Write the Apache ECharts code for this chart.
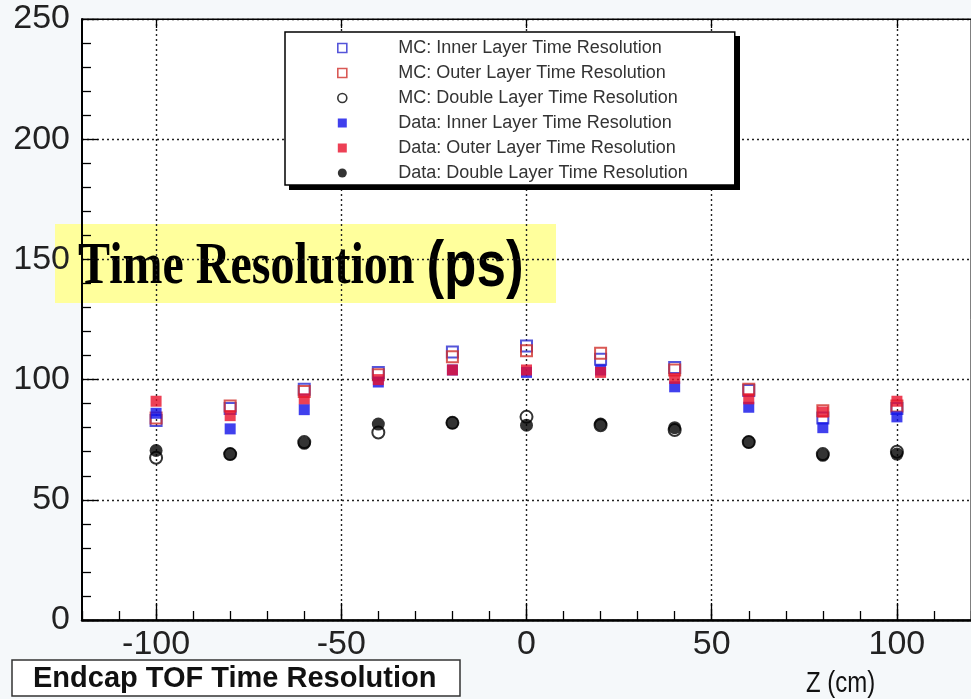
<!DOCTYPE html>
<html>
<head>
<meta charset="utf-8">
<title>Endcap TOF Time Resolution</title>
<script src="https://cdn.jsdelivr.net/npm/echarts@6/dist/echarts.min.js"></script>
<style>
  html, body { margin: 0; padding: 0; background: #f5f8fa; }
  #chart { width: 971px; height: 699px; }
</style>
</head>
<body>
<div id="chart"></div>
<script>
// Z positions along the endcap (cm)
const zPositions = [-100, -80, -60, -40, -20, 0, 20, 40, 60, 80, 100];

// Time resolution (ps) for each layer, simulation (MC) and beam data
const mcInner    = [83, 88, 96, 103, 111.5, 114, 108.5, 105, 95.5, 84, 88];
const mcOuter    = [84, 89, 95, 102, 109.5, 112, 111, 104, 96, 87, 89];
const mcDouble   = [67.5, 69, 74, 78, 82, 84.5, 81, 79, 74, 69, 70];
const dataInner  = [86, 79.5, 87.5, 99, 104, 103, 104, 97, 88.5, 80, 84.5];
const dataOuter  = [91, 85, 92, 100, 104, 104, 103, 100.5, 92, 86.5, 91];
const dataDouble = [70.5, 69, 73.5, 81.5, 82, 81, 81.5, 80, 74, 68.5, 69];

// Labelled (major) ticks on the Z axis
const zMajorTicks = [-100, -50, 0, 50, 100];

const seriesNames = [
  'MC: Inner Layer Time Resolution',
  'MC: Outer Layer Time Resolution',
  'MC: Double Layer Time Resolution',
  'Data: Inner Layer Time Resolution',
  'Data: Outer Layer Time Resolution',
  'Data: Double Layer Time Resolution'
];

const pairs = ys => zPositions.map((z, i) => [z, ys[i]]);

const SANS = '"Liberation Sans", Arial, sans-serif';
const SERIF = '"Liberation Serif", "Times New Roman", serif';
const SQUARE_ICON = 'path://M0,0H10V10H0Z';

const chart = echarts.init(document.getElementById('chart'), null, { renderer: 'canvas' });

function openSymbol(name, ys, symbol, stroke, size) {
  return {
    name, type: 'scatter', data: pairs(ys), symbol, symbolSize: size,
    xAxisIndex: 0,
    itemStyle: { color: 'rgba(255,255,255,0)', borderColor: stroke, borderWidth: 2 },
    emphasis: { disabled: true }
  };
}
function filledSymbol(name, ys, symbol, fill, size) {
  return {
    name, type: 'scatter', data: pairs(ys), symbol, symbolSize: size,
    xAxisIndex: 0,
    itemStyle: { color: fill },
    emphasis: { disabled: true }
  };
}

const gridLine = { show: true, lineStyle: { color: '#222', width: 1.4, type: [2, 3] } };
const tickLine = { color: '#000', width: 1.3 };

const option = {
  backgroundColor: '#f5f8fa',
  animation: false,
  title: {
    text: 'Endcap TOF Time Resolution',
    left: 12, top: 660,
    padding: [3, 24, 2, 21],
    backgroundColor: '#fff',
    borderColor: '#333',
    borderWidth: 1.5,
    textStyle: { fontFamily: SANS, fontSize: 29, fontWeight: 'bold', color: '#111', lineHeight: 31 }
  },
  legend: {
    orient: 'vertical',
    left: 285, top: 32,
    padding: [7, 47, 3, 52],
    itemWidth: 102, itemHeight: 9, itemGap: 7,
    backgroundColor: '#fff',
    borderColor: '#000', borderWidth: 1.5,
    selectedMode: false,
    symbolKeepAspect: true,
    itemStyle: { borderWidth: 1.6 },
    textStyle: { fontFamily: SANS, fontSize: 18, lineHeight: 16, color: '#333' },
    data: [
      { name: seriesNames[0], icon: SQUARE_ICON },
      { name: seriesNames[1], icon: SQUARE_ICON },
      { name: seriesNames[2], icon: 'circle' },
      { name: seriesNames[3], icon: SQUARE_ICON },
      { name: seriesNames[4], icon: SQUARE_ICON },
      { name: seriesNames[5], icon: 'circle' }
    ]
  },
  grid: {
    show: true,
    left: 82, top: 19, width: 898, height: 601,
    backgroundColor: '#fff',
    borderColor: '#000', borderWidth: 1
  },
  xAxis: [{
    // main Z axis: labelled long ticks and dotted grid at multiples of 50
    type: 'value', min: -120, max: 120, interval: 10,
    axisLine: { onZero: false, lineStyle: { color: '#000', width: 2.5 } },
    axisTick: { inside: true, length: 17, customValues: zMajorTicks, lineStyle: tickLine },
    axisLabel: { fontFamily: SANS, fontSize: 34, color: '#222', margin: 8, customValues: zMajorTicks },
    splitLine: gridLine
  }, {
    // short ticks every 10 cm along the bottom edge
    type: 'value', position: 'bottom', min: -120, max: 120, interval: 10,
    axisLine: { show: false, onZero: false },
    axisTick: { inside: true, length: 9, lineStyle: tickLine },
    axisLabel: { show: false },
    splitLine: { show: false }
  }, {
    // ticks along the top edge
    type: 'value', position: 'top', min: -120, max: 120, interval: 10,
    axisLine: { show: true, onZero: false, lineStyle: { color: '#000', width: 1 } },
    axisTick: { inside: true, length: 9, customValues: zMajorTicks, lineStyle: tickLine },
    axisLabel: { show: false },
    splitLine: { show: false }
  }],
  yAxis: {
    type: 'value', min: 0, max: 250, interval: 50,
    axisLine: { show: true, onZero: false, lineStyle: { color: '#000', width: 2 } },
    axisTick: { inside: true, length: 16, lineStyle: tickLine },
    minorTick: { show: true, splitNumber: 5, length: 9, lineStyle: tickLine },
    axisLabel: { fontFamily: SANS, fontSize: 34, color: '#222', margin: 12 },
    splitLine: gridLine
  },
  series: [
    openSymbol(seriesNames[0], mcInner, 'rect', '#2a2ad0', 11),
    openSymbol(seriesNames[1], mcOuter, 'rect', '#d0302a', 11),
    openSymbol(seriesNames[2], mcDouble, 'circle', '#000', 12),
    filledSymbol(seriesNames[3], dataInner, 'rect', '#1010e8', 11),
    filledSymbol(seriesNames[4], dataOuter, 'rect', '#e8102a', 11),
    filledSymbol(seriesNames[5], dataDouble, 'circle', '#000', 13)
  ],
  graphic: [
    // drop shadow behind the legend box
    { type: 'rect', z: 3, shape: { x: 289, y: 36, width: 451, height: 154 }, style: { fill: '#000' } },
    {
      type: 'group', z: 100,
      children: [
        { type: 'rect', shape: { x: 55, y: 224, width: 501, height: 79 }, style: { fill: '#ffff9c' } },
        {
          type: 'text', x: 78, y: 268, scaleY: 1.22,
          style: {
            text: '{a|Time Resolution }{b|(ps)}',
            verticalAlign: 'middle',
            rich: {
              a: { fontFamily: SERIF, fontSize: 48, fontWeight: 'bold', fill: '#000' },
              b: { fontFamily: SANS, fontSize: 53, fontWeight: 'bold', fill: '#000' }
            }
          }
        }
      ]
    },
    {
      type: 'text', x: 806, y: 684, scaleY: 1.2, z: 100,
      style: { text: 'Z (cm)', fontFamily: SANS, fontSize: 24, fill: '#111', verticalAlign: 'middle' }
    }
  ]
};

chart.setOption(option);
</script>
</body>
</html>
